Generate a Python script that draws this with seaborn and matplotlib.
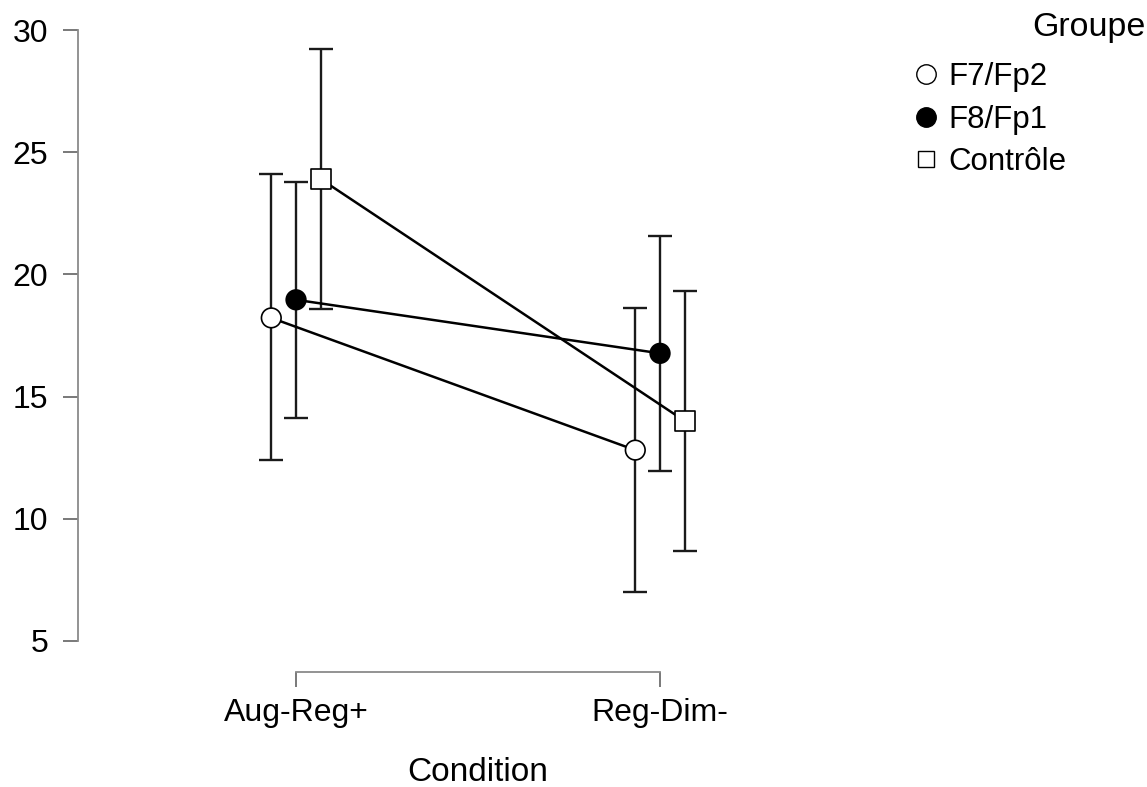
import pandas as pd
import matplotlib.pyplot as plt
import seaborn as sns
from matplotlib.lines import Line2D

# Descriptives
conditions = ['Aug-Reg+', 'Reg-Dim-']
groups = ['F7/Fp2', 'F8/Fp1', 'Contrôle']
means = {
    'F7/Fp2': [18.22, 12.81],
    'F8/Fp1': [18.96, 16.77],
    'Contrôle': [23.90, 14.00],
}
lower = {
    'F7/Fp2': [12.41, 6.99],
    'F8/Fp1': [14.14, 11.96],
    'Contrôle': [18.57, 8.68],
}
upper = {
    'F7/Fp2': [24.10, 18.64],
    'F8/Fp1': [23.77, 21.58],
    'Contrôle': [29.22, 19.32],
}

dodge = {'F7/Fp2': -0.068, 'F8/Fp1': 0.0, 'Contrôle': 0.068}
face = {'F7/Fp2': 'white', 'F8/Fp1': 'black', 'Contrôle': 'white'}
shape = {'F7/Fp2': 'o', 'F8/Fp1': 'o', 'Contrôle': 's'}

rows = []
for g in groups:
    for i, c in enumerate(conditions):
        rows.append({'Groupe': g, 'Condition': c, 'x': i + dodge[g],
                     'mean': means[g][i], 'lo': lower[g][i], 'hi': upper[g][i]})
df = pd.DataFrame(rows)

sns.set_theme(style='ticks')
plt.rcParams['font.family'] = ['Liberation Sans', 'DejaVu Sans']
plt.rcParams['text.color'] = 'black'

fig = plt.figure(figsize=(11.47, 7.87), dpi=100)
ax = fig.add_axes([0.068, 0.1461, 0.6347, 0.8313])

# error bars first so markers sit on top
for g in groups:
    sub = df[df['Groupe'] == g]
    ax.errorbar(sub['x'], sub['mean'],
                yerr=[sub['mean'] - sub['lo'], sub['hi'] - sub['mean']],
                fmt='none', ecolor='#1a1a1a', elinewidth=1.7, capsize=8.5,
                capthick=1.7, zorder=1)

sns.lineplot(data=df, x='x', y='mean', units='Groupe', estimator=None,
             color='black', linewidth=1.8, ax=ax, zorder=2)

sns.scatterplot(data=df, x='x', y='mean', hue='Groupe', style='Groupe',
                palette=face, markers=shape, s=200, edgecolor='black',
                linewidth=1.2, ax=ax, legend=False, zorder=3)

ax.set_xlim(-0.599, 1.401)
ax.set_ylim(3.73, 30.5)
ax.set_xticks([0, 1])
ax.set_xticklabels(conditions)
ax.set_yticks([5, 10, 15, 20, 25, 30])
ax.set_xlabel('Condition', fontsize=24, color='black')
ax.xaxis.set_label_coords(0.549, -0.13)
ax.set_ylabel('')

sns.despine(ax=ax)
ax.spines['left'].set_bounds(5, 30)
ax.spines['bottom'].set_bounds(0, 1)
for s in ['left', 'bottom']:
    ax.spines[s].set_color('#8a8a8a')
    ax.spines[s].set_linewidth(1.3)
ax.tick_params(axis='both', colors='#6e6e6e', length=11, width=1.3,
               labelsize=23, labelcolor='black')
ax.tick_params(axis='y', pad=10.5)
ax.tick_params(axis='x', pad=8)

handles = [Line2D([], [], linestyle='none', marker=shape[g], markersize=14 if shape[g] == 'o' else 11.5,
                  markerfacecolor=face[g], markeredgecolor='black', markeredgewidth=1.0)
           for g in groups]
fig.legend(handles, groups, loc='upper left', bbox_to_anchor=(0.783, 0.937),
           frameon=False, fontsize=22.5, handletextpad=0.2, labelspacing=0.4,
           handlelength=1.0, borderaxespad=0)
fig.text(0.999, 0.965, 'Groupe', ha='right', va='center', fontsize=24.5)

fig.savefig('out.png', dpi=100)
